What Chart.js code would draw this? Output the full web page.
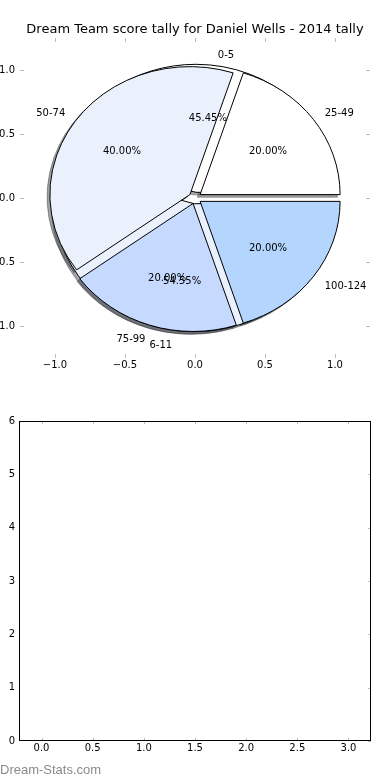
<!DOCTYPE html>
<html><head><meta charset="utf-8">
<script src="https://cdn.jsdelivr.net/npm/chart.js@4.4.1/dist/chart.umd.min.js"></script>
<style>
html,body{margin:0;padding:0;background:#fff;}
#wrap{position:relative;width:390px;height:780px;overflow:hidden;background:#fff;}
#c1{position:absolute;left:0;top:0;}
#c2{position:absolute;left:0;top:400px;}
#wm{position:absolute;left:0;top:762px;font-family:"Liberation Sans",Arial,sans-serif;font-size:13px;line-height:15px;color:#8a8a8a;white-space:nowrap;}
</style></head><body>
<div id="wrap">
<canvas id="c1" width="390" height="400"></canvas>
<canvas id="c2" width="390" height="380"></canvas>
<div id="wm">Dream-Stats.com</div>
</div>
<script>
// ---- data ----
const chartTitle = 'Dream Team score tally for Daniel Wells - 2014 tally';
const innerLabels = ['0-5', '6-11'];
const innerValues = [45.45, 54.55];
const outerLabels = ['25-49', '50-74', '75-99', '100-124'];
const outerValues = [20, 40, 20, 20];
const pieTicks = [-1.0, -0.5, 0.0, 0.5, 1.0];
const barXTicks = [0.0, 0.5, 1.0, 1.5, 2.0, 2.5, 3.0];
const barYTicks = [0, 1, 2, 3, 4, 5, 6];

// ---- styles ----
const FONT = '"DejaVu Sans", "Noto Sans", sans-serif';
Chart.defaults.font.family = FONT;
Chart.defaults.color = '#000';
const innerColors = ['#ffffff', '#eaf1fd'];
const outerColors = ['#ffffff', '#eaf1fd', '#c6d9fe', '#b3d5fe'];

function fmtTick(v, dec) {
  const s = Math.abs(v).toFixed(dec);
  return (v < -1e-9 ? '\u2212' : '') + s;
}
function hexRgb(h) {
  const n = parseInt(h.slice(1), 16);
  return [(n >> 16) & 255, (n >> 8) & 255, n & 255];
}

const ellipsePie = {
  id: 'ellipsePie',
  afterDatasetsDraw(chart, args, opts) {
    const xs = chart.scales.x, ys = chart.scales.y, ctx = chart.ctx;
    const rx = Math.abs(xs.getPixelForValue(1) - xs.getPixelForValue(0));
    const ry = Math.abs(ys.getPixelForValue(1) - ys.getPixelForValue(0));
    const D = Math.PI / 180;
    const pies = opts.pies.map(p => {
      const total = p.values.reduce((a, b) => a + b, 0);
      let a = p.startAngle;
      return p.values.map((v, i) => {
        const t1 = a, t2 = a + 360 * v / total; a = t2;
        const tm = (t1 + t2) / 2 * D;
        return { t1, t2, tm, cx: p.explode * Math.cos(tm), cy: p.explode * Math.sin(tm),
                 color: p.colors[i], label: p.labels[i], pct: 100 * v / total };
      });
    });
    function path(w, dx, dy) {
      const px = xs.getPixelForValue(w.cx + dx), py = ys.getPixelForValue(w.cy + dy);
      ctx.beginPath();
      ctx.moveTo(px, py);
      ctx.ellipse(px, py, rx, ry, 0, -w.t1 * D, -w.t2 * D, true);
      ctx.closePath();
    }
    ctx.save();
    ctx.lineWidth = opts.lineWidth;
    ctx.lineJoin = 'round';
    // shadows (below all wedges)
    pies.forEach(ws => ws.forEach(w => {
      const [r, g, b] = hexRgb(w.color);
      const c = `rgba(${Math.round(r * 0.3)},${Math.round(g * 0.3)},${Math.round(b * 0.3)},0.5)`;
      path(w, opts.shadow, opts.shadow);
      ctx.fillStyle = c; ctx.strokeStyle = c;
      ctx.fill(); ctx.stroke();
    }));
    // wedges
    pies.forEach(ws => ws.forEach(w => {
      path(w, 0, 0);
      ctx.fillStyle = w.color; ctx.strokeStyle = '#000';
      ctx.fill(); ctx.stroke();
    }));
    // texts
    ctx.fillStyle = '#000';
    ctx.font = `${opts.fontSize}px ${FONT}`;
    ctx.textBaseline = 'middle';
    pies.forEach(ws => ws.forEach(w => {
      const lx = w.cx + opts.labelDistance * Math.cos(w.tm);
      const ly = w.cy + opts.labelDistance * Math.sin(w.tm);
      ctx.textAlign = lx > 0 ? 'left' : 'right';
      ctx.fillText(w.label, xs.getPixelForValue(lx), ys.getPixelForValue(ly) + opts.textDy);
      const px = w.cx + opts.pctDistance * Math.cos(w.tm);
      const py = w.cy + opts.pctDistance * Math.sin(w.tm);
      ctx.textAlign = 'center';
      ctx.fillText(w.pct.toFixed(2) + '%', xs.getPixelForValue(px), ys.getPixelForValue(py) + opts.textDy);
    }));
    ctx.restore();
  }
};

const tickMarks = {
  id: 'tickMarks',
  afterDraw(chart, args, opts) {
    const ctx = chart.ctx, a = chart.chartArea;
    const xs = chart.scales.x, ys = chart.scales.y;
    ctx.save();
    ctx.strokeStyle = opts.color; ctx.lineWidth = 1;
    ctx.beginPath();
    xs.ticks.forEach(t => {
      const p = Math.round(xs.getPixelForValue(t.value)) + 0.5;
      if (opts.sides.includes('top')) { ctx.moveTo(p, a.top); ctx.lineTo(p, a.top + opts.len); }
      if (opts.sides.includes('bottom')) { ctx.moveTo(p, a.bottom); ctx.lineTo(p, a.bottom - opts.len); }
    });
    ys.ticks.forEach(t => {
      const p = Math.round(ys.getPixelForValue(t.value)) + 0.5;
      if (opts.sides.includes('left')) { ctx.moveTo(a.left, p); ctx.lineTo(a.left + opts.len, p); }
      if (opts.sides.includes('right')) { ctx.moveTo(a.right, p); ctx.lineTo(a.right - opts.len, p); }
    });
    ctx.stroke();
    if (opts.frame) {
      ctx.strokeStyle = '#000';
      ctx.strokeRect(a.left + 0.5, a.top + 0.5, a.right - a.left - 1, a.bottom - a.top - 1);
    }
    ctx.restore();
  }
};

function axis(min, max, tickVals, dec, pad, fit) {
  return {
    type: 'linear', min, max,
    afterBuildTicks: s => { s.ticks = tickVals.map(v => ({ value: v })); },
    afterFit: fit,
    grid: { display: false, drawTicks: false },
    border: { display: false },
    ticks: { callback: v => fmtTick(v, dec), font: { size: 10 }, padding: pad, autoSkip: false, maxRotation: 0, color: '#000' }
  };
}
// empty spacer axis on the right so the title stays centred on the whole figure
const rightSpacer = {
  type: 'linear', position: 'right', display: true, min: 0, max: 1,
  grid: { display: false, drawTicks: false }, border: { display: false },
  ticks: { display: false }, afterFit: s => { s.width = 20; }
};

new Chart(document.getElementById('c1'), {
  type: 'scatter',
  data: { datasets: [] },
  plugins: [ellipsePie, tickMarks],
  options: {
    responsive: false, animation: false, devicePixelRatio: 1,
    layout: { padding: 0 },
    scales: {
      x: axis(-1.25, 1.25, pieTicks, 1, 1, s => { s.height = 42; }),
      y: axis(-1.25, 1.25, pieTicks, 1, 5, s => { s.width = 20; }),
      yr: rightSpacer
    },
    plugins: {
      legend: { display: false }, tooltip: { enabled: false },
      title: { display: true, text: chartTitle, color: '#000',
               font: { size: 13, weight: 'normal', family: FONT }, padding: { top: 21.7, bottom: 0.7 } },
      ellipsePie: {
        pies: [
          { labels: innerLabels, values: innerValues, colors: innerColors, explode: 0.045, startAngle: 0 },
          { labels: outerLabels, values: outerValues, colors: outerColors, explode: 0.045, startAngle: 0 }
        ],
        labelDistance: 1.1, pctDistance: 0.6, shadow: -0.02, lineWidth: 1, fontSize: 10, textDy: 2
      },
      tickMarks: { color: '#bdbdbd', len: 4, sides: ['top', 'bottom', 'left', 'right'], frame: false }
    }
  }
});

new Chart(document.getElementById('c2'), {
  type: 'scatter',
  data: { datasets: [] },
  plugins: [tickMarks],
  options: {
    responsive: false, animation: false, devicePixelRatio: 1,
    layout: { padding: { top: 21, right: 19, bottom: 0, left: 0 } },
    scales: {
      x: axis(-0.22, 3.22, barXTicks, 1, 1, s => { s.height = 39; }),
      y: axis(0, 6, barYTicks, 0, 4, s => { s.width = 19; })
    },
    plugins: {
      legend: { display: false }, tooltip: { enabled: false }, title: { display: false },
      tickMarks: { color: '#bdbdbd', len: 3, sides: ['top', 'bottom', 'right'], frame: true }
    }
  }
});
</script>
</body></html>
